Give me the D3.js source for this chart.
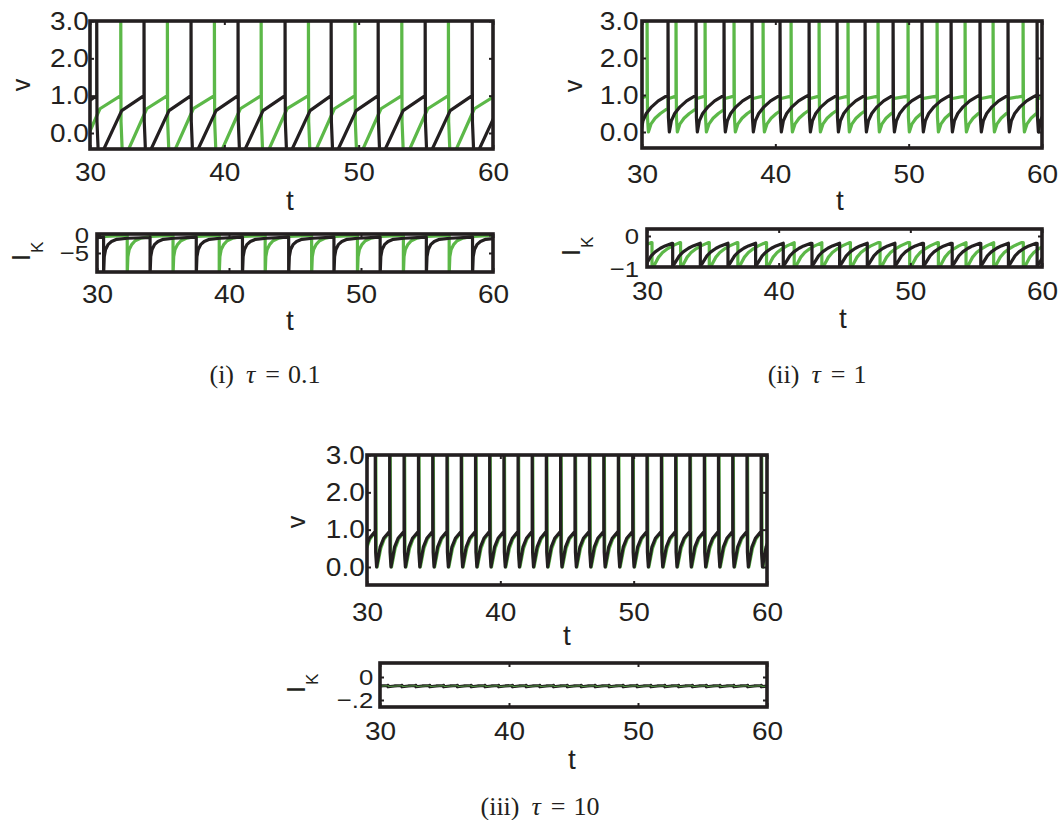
<!DOCTYPE html>
<html>
<head>
<meta charset="utf-8">
<script src="https://cdn.jsdelivr.net/npm/d3@7"></script>
<style>
  body { margin: 0; background: #fff; }
  svg text { font-family: "Liberation Sans", Arial, Helvetica, sans-serif; fill: #231f20; }
  svg text.cap { font-family: "Liberation Serif", "Times New Roman", serif; }
</style>
</head>
<body>
<svg id="fig" width="1060" height="820"></svg>
<script>
// ---------------- data ----------------
const tTicks = [30, 40, 50, 60];
const vTicks = [0, 1, 2, 3];
const vTickLabels = ["0.0", "1.0", "2.0", "3.0"];

// (i) tau = 0.1 : spike times of the two cells
const tau01SpikesBlack = [27.0, 30.5, 34.02, 37.52, 41.02, 44.52, 47.95, 51.45, 54.95, 58.45, 61.95];
const tau01SpikesGreen = [28.81, 32.29, 35.76, 39.26, 42.74, 46.26, 49.73, 53.21, 56.68, 60.16];
// voltage course following each spike (time offset, value)
const tau01VBlackDt = [0, 0, 0.02, 0.10, 0.16, 0.31, 1.86];
const tau01VBlackV  = [1.0, 3.3, 0.3, -0.4, -0.6, -0.6, 0.6];
const tau01VGreenDt = [0, 0, 0.02, 0.10, 0.16, 0.38, 1.93];
const tau01VGreenV  = [1.0, 3.3, 0.3, -0.4, -0.6, -0.6, 0.65];
// potassium current following each spike
const tau01IBlackDt = [0, 0, 0.05, 0.15, 0.35, 0.6, 1.0, 1.8, 3.5];
const tau01IBlackV  = [-0.6, -11, -6, -4, -2.6, -1.8, -1.2, -0.9, -0.7];
const tau01IGreenDt = [0, 0, 0.05, 0.15, 0.35, 0.6, 1.0, 1.8, 3.5];
const tau01IGreenV  = [-0.1, -11, -6, -4, -2.6, -1.6, -0.9, -0.4, -0.1];
const tau01ITicks = [0, -5];
const tau01ITickLabels = ["0", "\u22125"];

// (ii) tau = 1
const tau1SpikesBlack = [29.82, 31.95, 34.05, 36.15, 38.25, 40.35, 42.53, 44.63, 46.73, 48.83, 51.0, 53.18, 55.35, 57.45, 59.63, 61.76];
const tau1SpikesGreen = [28.2, 30.38, 32.55, 34.73, 36.9, 39.08, 41.18, 43.28, 45.45, 47.7, 49.95, 52.13, 54.23, 56.33, 58.58, 60.75];
const tau1VBlackDt = [0, 0, 0.03, 0.10, 0.25, 0.5, 0.9, 1.4, 1.9];
const tau1VBlackV  = [1.0, 3.3, 0.4, 0.0, 0.3, 0.5, 0.68, 0.84, 0.95];
const tau1VGreenDt = [0, 0, 0.03, 0.10, 0.3, 0.6, 1.0, 1.4, 1.8];
const tau1VGreenV  = [0.97, 3.3, 0.4, 0.0, 0.22, 0.37, 0.5, 0.6, 0.67];
const tau1GreenKickLevel = 0.9;   // green level right after the black cell fires
const tau1IBlackDt = [0, 0, 0.15, 0.5, 0.8, 1.2, 1.55, 2.1];
const tau1IBlackV  = [-0.22, -0.9, -0.83, -0.6, -0.48, -0.37, -0.3, -0.22];
const tau1IGreenDt = [0, 0, 0.15, 0.5, 0.8, 1.2, 1.55, 2.1];
const tau1IGreenV  = [-0.2, -0.98, -0.9, -0.64, -0.5, -0.38, -0.3, -0.2];
const tau1ITicks = [0, -1];
const tau1ITickLabels = ["0", "\u22121"];

// (iii) tau = 10
const tau10SpikesBlack = [29.55, 30.62, 31.70, 32.78, 33.86, 34.93, 36.00, 37.07, 38.14, 39.20, 40.27, 41.33, 42.39, 43.45, 44.52, 45.60, 46.68, 47.76, 48.85, 49.93, 51.00, 52.08, 53.15, 54.22, 55.30, 56.36, 57.43, 58.50, 59.56, 60.63];
const tau10SpikesGreen = [29.59, 30.66, 31.74, 32.82, 33.90, 34.97, 36.04, 37.11, 38.18, 39.24, 40.31, 41.37, 42.43, 43.49, 44.56, 45.64, 46.72, 47.80, 48.89, 49.97, 51.04, 52.12, 53.19, 54.26, 55.34, 56.40, 57.47, 58.54, 59.60, 60.67];
const tau10VBlackDt = [0, 0, 0.03, 0.10, 0.37, 0.63];
const tau10VBlackV  = [0.96, 3.3, 0.4, 0.0, 0.54, 0.77];
const tau10VGreenDt = [0, 0, 0.03, 0.10, 0.37, 0.63];
const tau10VGreenV  = [0.96, 3.3, 0.4, 0.0, 0.50, 0.75];
const tau10IBlackDt = [0, 0, 0.5, 1.0];
const tau10IBlackV  = [-0.073, -0.085, -0.078, -0.074];
const tau10IGreenDt = [0, 0, 0.5, 1.0];
const tau10IGreenV  = [-0.075, -0.083, -0.079, -0.076];
const tau10ITicks = [0, -0.2];
const tau10ITickLabels = ["0", "\u2212.2"];

// ---------------- drawing ----------------
const INK = "#231f20";
const GREEN = "#5cb848";
const svg = d3.select("#fig");

// repeat the post-spike course after every spike, up to the next spike
function buildTrace(spikes, dt, v) {
  const pts = [];
  spikes.forEach((s, i) => {
    const next = i + 1 < spikes.length ? spikes[i + 1] : Infinity;
    dt.forEach((d, k) => { if (s + d < next) pts.push([s + d, v[k]]); });
  });
  return pts;
}

// same, but the partner's spike ends the rise and lifts the trace
function buildKickedTrace(spikes, partner, dt, v, kick) {
  const rise = d3.scaleLinear().domain(dt.slice(3)).range(v.slice(3)).clamp(true);
  const pts = [];
  spikes.forEach((s, i) => {
    const next = i + 1 < spikes.length ? spikes[i + 1] : Infinity;
    const p = partner.find(q => q > s && q < next);
    const stop = p === undefined ? next : p;
    dt.forEach((d, k) => { if (s + d < stop) pts.push([s + d, v[k]]); });
    if (p !== undefined) pts.push([p, rise(p - s)], [p, kick]);
  });
  return pts;
}

let clipId = 0;
function panel(cfg) {
  const x = d3.scaleLinear().domain([30, 60]).range([cfg.x0, cfg.x1]);
  const y = d3.scaleLinear().domain(cfg.yDom).range(cfg.yRange);
  const g = svg.append("g");
  const id = "clip" + (clipId++);
  g.append("clipPath").attr("id", id).append("rect")
    .attr("x", cfg.x0).attr("y", cfg.y0)
    .attr("width", cfg.x1 - cfg.x0).attr("height", cfg.y1 - cfg.y0);

  const line = d3.line().x(d => x(d[0])).y(d => y(d[1]));
  const plot = g.append("g").attr("clip-path", `url(#${id})`);
  cfg.traces.forEach(tr => {
    plot.append("path").attr("d", line(tr.pts))
      .attr("fill", "none").attr("stroke", tr.color)
      .attr("stroke-width", tr.width || 3.2)
      .attr("stroke-linejoin", "round").attr("stroke-linecap", "butt")
      .attr("opacity", tr.opacity || 1);
  });

  const ya = y.invert(cfg.y1), yb = y.invert(cfg.y0);
  const inside = d => d >= Math.min(ya, yb) - 1e-9 && d <= Math.max(ya, yb) + 1e-9;

  // bottom axis with labels
  const ax = g.append("g").attr("transform", `translate(0,${cfg.y1})`)
    .call(d3.axisBottom(x).tickValues(tTicks).tickSizeInner(-4).tickSizeOuter(0)
      .tickPadding(cfg.xPad).tickFormat(d3.format("d")));
  // top mirror ticks
  const at = g.append("g").attr("transform", `translate(0,${cfg.y0})`)
    .call(d3.axisTop(x).tickValues(tTicks).tickSizeInner(-4).tickSizeOuter(0).tickFormat(() => ""));
  // left axis with labels
  const al = g.append("g").attr("transform", `translate(${cfg.x0},0)`)
    .call(d3.axisLeft(y).tickValues(cfg.yTicks).tickSizeInner(-4).tickSizeOuter(0)
      .tickPadding(cfg.yPad).tickFormat((d, i) => cfg.yLabels[i]));
  const ar = g.append("g").attr("transform", `translate(${cfg.x1},0)`)
    .call(d3.axisRight(y).tickValues(cfg.yTicks).tickSizeInner(-4).tickSizeOuter(0).tickFormat(() => ""));

  [ax, at, al, ar].forEach(a => {
    a.select(".domain").remove();
    a.selectAll(".tick line").attr("stroke", INK).attr("stroke-width", 2);
    a.selectAll("text").attr("font-size", 25).attr("fill", INK)
      .attr("font-family", '"Liberation Sans", Arial, sans-serif')
      .attr("transform", "scale(1.12,1)");
  });
  if (cfg.yFont) al.selectAll("text").attr("font-size", cfg.yFont);
  [al, ar].forEach(a => a.selectAll(".tick").filter(d => !inside(d)).select("line").remove());

  // frame
  g.append("rect").attr("x", cfg.x0).attr("y", cfg.y0)
    .attr("width", cfg.x1 - cfg.x0).attr("height", cfg.y1 - cfg.y0)
    .attr("fill", "none").attr("stroke", INK).attr("stroke-width", 3.6);

  // x label
  g.append("text").attr("x", cfg.tPos[0]).attr("y", cfg.tPos[1])
    .attr("text-anchor", "middle").attr("font-size", 28).text("t");

  // y label
  const yl = g.append("text")
    .attr("transform", `translate(${cfg.yLabPos[0]},${cfg.yLabPos[1]}) rotate(-90)`)
    .attr("font-size", 25);
  if (cfg.yLab === "v") {
    yl.attr("text-anchor", "middle").text("v");
  } else {
    yl.attr("text-anchor", "start");
    yl.append("tspan").text("I");
    yl.append("tspan").attr("font-size", 17).attr("dx", 1).attr("dy", 13).text("K");
  }
}

// (i) tau = 0.1
panel({
  x0: 90, x1: 493, y0: 21, y1: 149, yDom: [0, 3], yRange: [133, 21],
  yTicks: vTicks, yLabels: vTickLabels, xPad: 14, yPad: 1,
  tPos: [290, 210], yLab: "v", yLabPos: [30, 85],
  traces: [
    { pts: buildTrace(tau01SpikesGreen, tau01VGreenDt, tau01VGreenV), color: GREEN },
    { pts: buildTrace(tau01SpikesBlack, tau01VBlackDt, tau01VBlackV), color: INK }
  ]
});
panel({
  x0: 97, x1: 493, y0: 234, y1: 272, yDom: [0, -5], yRange: [235, 253],
  yTicks: tau01ITicks, yLabels: tau01ITickLabels, xPad: 13, yPad: 7, yFont: 23,
  tPos: [290, 330], yLab: "IK", yLabPos: [30, 261],
  traces: [
    { pts: buildTrace(tau01SpikesGreen, tau01IGreenDt, tau01IGreenV), color: GREEN },
    { pts: buildTrace(tau01SpikesBlack, tau01IBlackDt, tau01IBlackV), color: INK }
  ]
});

// (ii) tau = 1
panel({
  x0: 642, x1: 1042, y0: 21, y1: 148, yDom: [0, 3], yRange: [132, 21],
  yTicks: vTicks, yLabels: vTickLabels, xPad: 17, yPad: 3,
  tPos: [840, 210], yLab: "v", yLabPos: [582, 86],
  traces: [
    { pts: buildKickedTrace(tau1SpikesGreen, tau1SpikesBlack, tau1VGreenDt, tau1VGreenV, tau1GreenKickLevel), color: GREEN },
    { pts: buildTrace(tau1SpikesBlack, tau1VBlackDt, tau1VBlackV), color: INK }
  ]
});
panel({
  x0: 647, x1: 1042, y0: 229, y1: 267, yDom: [0, -1], yRange: [236, 269],
  yTicks: tau1ITicks, yLabels: tau1ITickLabels, xPad: 15, yPad: 7, yFont: 23,
  tPos: [843, 328], yLab: "IK", yLabPos: [580, 256],
  traces: [
    { pts: buildTrace(tau1SpikesGreen, tau1IGreenDt, tau1IGreenV), color: GREEN },
    { pts: buildTrace(tau1SpikesBlack, tau1IBlackDt, tau1IBlackV), color: INK }
  ]
});

// (iii) tau = 10
panel({
  x0: 367, x1: 767, y0: 455, y1: 585, yDom: [0, 3], yRange: [567, 455],
  yTicks: vTicks, yLabels: vTickLabels, xPad: 18, yPad: 2,
  tPos: [567, 645], yLab: "v", yLabPos: [305, 522],
  traces: [
    { pts: buildTrace(tau10SpikesGreen, tau10VGreenDt, tau10VGreenV), color: GREEN },
    { pts: buildTrace(tau10SpikesBlack, tau10VBlackDt, tau10VBlackV), color: INK }
  ]
});
panel({
  x0: 380, x1: 767, y0: 663, y1: 707, yDom: [0, -0.2], yRange: [677, 700],
  yTicks: tau10ITicks, yLabels: tau10ITickLabels, xPad: 15, yPad: 6, yFont: 23,
  tPos: [572, 769], yLab: "IK", yLabPos: [305, 693],
  traces: [
    { pts: buildTrace(tau10SpikesBlack, tau10IBlackDt, tau10IBlackV), color: INK },
    { pts: buildTrace(tau10SpikesGreen, tau10IGreenDt, tau10IGreenV), color: GREEN, width: 1, opacity: 0.8 }
  ]
});

// sub-figure captions
function caption(cx, cy, label, value) {
  const t = svg.append("text").attr("class", "cap").attr("x", cx).attr("y", cy)
    .attr("text-anchor", "middle").attr("font-size", 26);
  t.append("tspan").text(label);
  t.append("tspan").attr("dx", 12).attr("font-style", "italic").text("\u03c4");
  t.append("tspan").attr("dx", 10).text("=");
  t.append("tspan").attr("dx", 8).text(value);
}
caption(265, 383, "(i)", "0.1");
caption(817, 383, "(ii)", "1");
caption(540, 815, "(iii)", "10");
</script>
</body>
</html>
